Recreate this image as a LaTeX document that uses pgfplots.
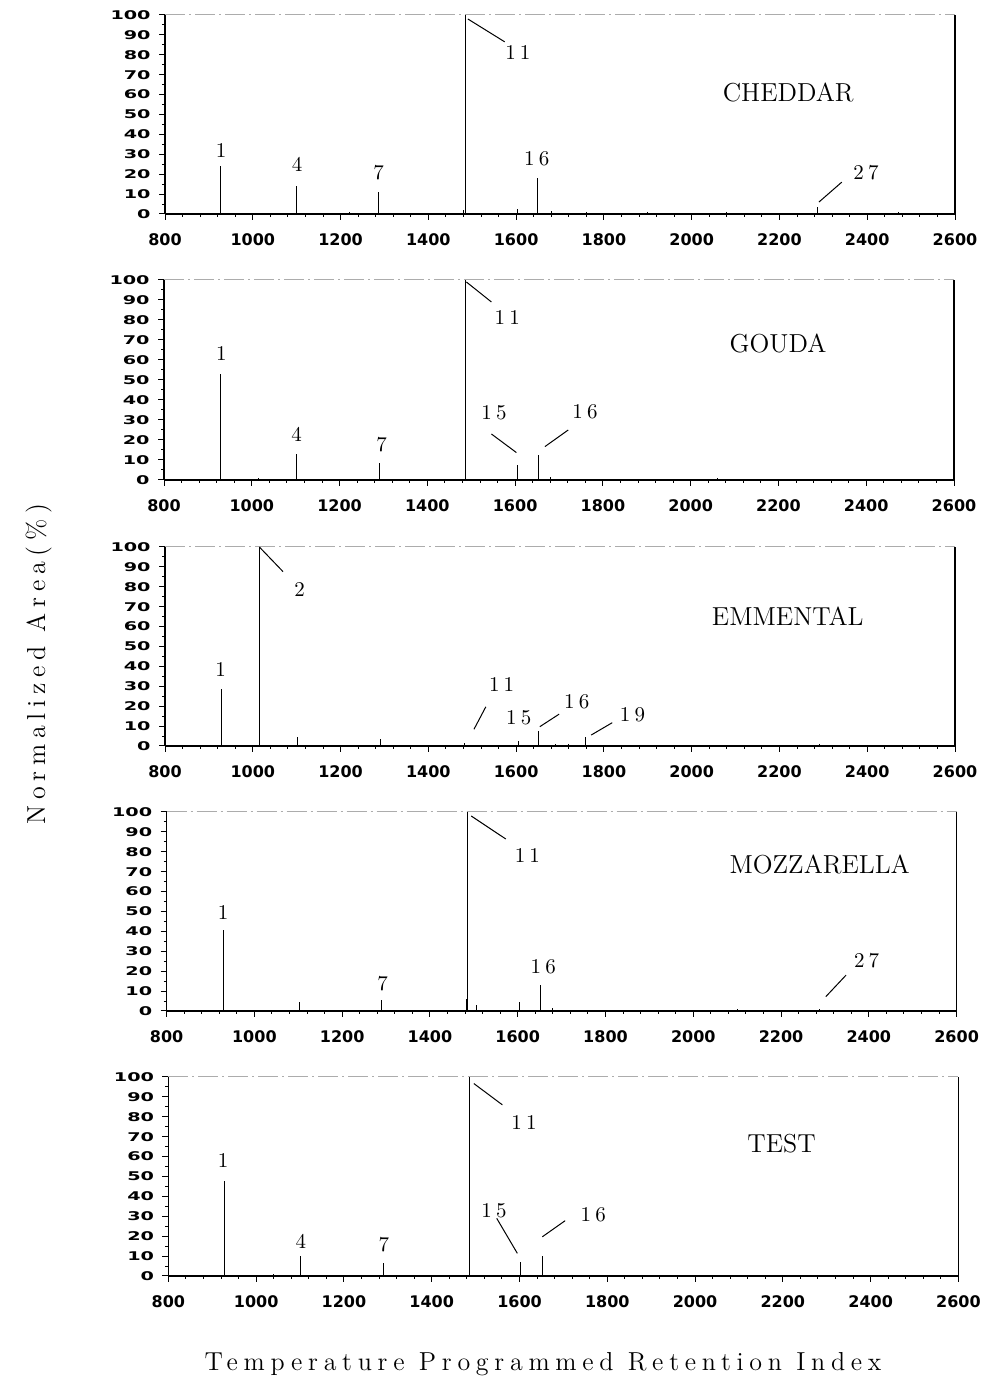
\documentclass[border=0pt]{standalone}
\usepackage{fontspec}
\usepackage{graphicx}
\usepackage{pgfplots}
\pgfplotsset{compat=1.18}
\newfontfamily\tickfont{DejaVu Sans}
\newfontfamily\spacedA{lmroman12-regular.otf}[LetterSpace=22]
\newfontfamily\spacedB{lmroman10-regular.otf}[LetterSpace=20]
\newcommand\lbl[1]{{\spacedB\fontsize{10.5}{12}\selectfont #1}}
\newcommand\ttl[1]{{\fontsize{13}{15}\selectfont #1}}
\pgfplotsset{
  panel/.style={
    scale only axis,
    width=395pt, height=99.5pt,
    xmin=800, xmax=2600, ymin=0, ymax=100,
    axis lines*=left,
    axis line style={-, line width=0.6pt},
    xtick={800,1000,...,2600},
    ytick={0,10,...,100},
    minor x tick num=4,
    minor y tick num=1,
    tick align=outside,
    major tick length=3pt,
    minor tick length=1.5pt,
    tick style={black, line width=0.5pt},
    scaled x ticks=false,
    /pgf/number format/1000 sep={},
    /pgf/number format/assume math mode=true,
    xticklabel style={font=\tickfont\bfseries\fontsize{8}{9}\selectfont, inner sep=0pt, yshift=-6.5pt},
    yticklabel={\scalebox{1.6}[1]{\pgfmathprintnumber{\tick}}},
    yticklabel style={font=\tickfont\bfseries\fontsize{6}{7}\selectfont, inner sep=0pt, xshift=-4pt},
    clip=false,
    anchor=south west,
  },
  stick/.style={ycomb, no markers, black, line width=0.5pt},
  noise/.style={ycomb, no markers, black, line width=0.4pt},
}
\newcommand\frameTR{%
  \draw[gray!65, line width=0.5pt, dash pattern=on 10pt off 2pt on 1pt off 2pt] (rel axis cs:0,1) -- (rel axis cs:1,1);
  \draw[black, line width=0.6pt] (rel axis cs:1,0) -- (rel axis cs:1,1);}
\begin{document}
\begin{tikzpicture}
\path[use as bounding box] (0,0) rectangle (493pt,690pt);

% ---------------- CHEDDAR
\begin{axis}[panel, at={(82.5pt,583pt)}]
\addplot[stick] coordinates {(927,24) (1100,14.3) (1287,11.2) (1485,100) (1648,18) (2287,3.5)};
\addplot[noise] coordinates {(1010,0.6) (1060,0.5) (1220,0.8) (1480,2) (1603,2.5) (1680,1.5) (1760,1.2) (1900,0.8) (2080,1.2) (2470,1)};
\frameTR
\node at (axis cs:928,32) {\lbl{1}};
\node at (axis cs:1101,25) {\lbl{4}};
\node at (axis cs:1287,21) {\lbl{7}};
\node at (axis cs:1604,81) {\lbl{11}};
\draw[line width=0.5pt] (axis cs:1490,98) -- (axis cs:1574,86.5);
\node at (axis cs:1647,28) {\lbl{16}};
\node at (axis cs:2397,21) {\lbl{27}};
\draw[line width=0.5pt] (axis cs:2290,6) -- (axis cs:2342,16);
\node at (axis cs:2220,61) {\ttl{CHEDDAR}};
\end{axis}

% ---------------- GOUDA
\begin{axis}[panel, height=100pt, at={(82pt,450pt)}]
\addplot[stick] coordinates {(929,53) (1102,13) (1290,8.7) (1487,100) (1606,7.5) (1653,12.3)};
\addplot[noise] coordinates {(1016,1) (1230,0.6) (1680,1.5) (1760,0.6) (1900,0.6) (2060,0.8) (2300,0.5)};
\frameTR
\node at (axis cs:931,63) {\lbl{1}};
\node at (axis cs:1102,23) {\lbl{4}};
\node at (axis cs:1296,17.5) {\lbl{7}};
\node at (axis cs:1582,81) {\lbl{11}};
\draw[line width=0.5pt] (axis cs:1489,99) -- (axis cs:1546,89);
\node at (axis cs:1552,33.7) {\lbl{15}};
\draw[line width=0.5pt] (axis cs:1546,23) -- (axis cs:1603,13.7);
\node at (axis cs:1759,34) {\lbl{16}};
\draw[line width=0.5pt] (axis cs:1721,25) -- (axis cs:1668,16.7);
\node at (axis cs:2199,68) {\ttl{GOUDA}};
\end{axis}

% ---------------- EMMENTAL
\begin{axis}[panel, at={(82.5pt,317pt)}]
\addplot[stick] coordinates {(927.6,28.5) (1015,100) (1101,4.5) (1290,3.3) (1483,1.5) (1605,2.7) (1652,7.5) (1758,4.5)};
\addplot[noise] coordinates {(960,0.6) (1690,1) (1720,0.8) (1860,0.5) (2290,0.8) (2430,0.6)};
\frameTR
\node at (axis cs:927,38.5) {\lbl{1}};
\node at (axis cs:1107,78.4) {\lbl{2}};
\draw[line width=0.5pt] (axis cs:1015,100) -- (axis cs:1069,87.6);
\node at (axis cs:1567,30.7) {\lbl{11}};
\draw[line width=0.5pt] (axis cs:1531,19.7) -- (axis cs:1504,8.4);
\node at (axis cs:1606,14) {\lbl{15}};
\node at (axis cs:1738,22.3) {\lbl{16}};
\draw[line width=0.5pt] (axis cs:1698,16) -- (axis cs:1654,9.7);
\node at (axis cs:1865,15.6) {\lbl{19}};
\draw[line width=0.5pt] (axis cs:1819,11.7) -- (axis cs:1771,5.5);
\node at (axis cs:2219,65.3) {\ttl{EMMENTAL}};
\end{axis}

% ---------------- MOZZARELLA
\begin{axis}[panel, at={(83.3pt,184.5pt)}]
\addplot[stick] coordinates {(929,40.8) (1102,4.4) (1290,5.5) (1486,100) (1505,3) (1605,4.7) (1652,13) (1680,1.5) (2288,1)};
\addplot[noise] coordinates {(1483,6) (1060,0.5) (1200,0.5) (1900,0.6) (2100,0.8) (2400,0.5)};
\frameTR
\node at (axis cs:929,49.5) {\lbl{1}};
\node at (axis cs:1292,13.6) {\lbl{7}};
\node at (axis cs:1622,78) {\lbl{11}};
\draw[line width=0.5pt] (axis cs:1494,98) -- (axis cs:1573,86.4);
\node at (axis cs:1658,22.3) {\lbl{16}};
\node at (axis cs:2395,25.2) {\lbl{27}};
\draw[line width=0.5pt] (axis cs:2348,18) -- (axis cs:2302,7.2);
\node at (axis cs:2288,73.5) {\ttl{MOZZARELLA}};
\end{axis}

% ---------------- TEST
\begin{axis}[panel, at={(84.2pt,52pt)}]
\addplot[stick] coordinates {(927.6,47.8) (1101,10.2) (1289,6.4) (1487,100) (1603,6.9) (1652,10)};
\addplot[noise] coordinates {(1039,1) (1080,0.6) (1700,0.6) (1960,0.5) (2150,0.6) (2500,0.5)};
\frameTR
\node at (axis cs:924.6,58.2) {\lbl{1}};
\node at (axis cs:1102,17.2) {\lbl{4}};
\node at (axis cs:1291,15.9) {\lbl{7}};
\node at (axis cs:1610,77) {\lbl{11}};
\draw[line width=0.5pt] (axis cs:1496,96.7) -- (axis cs:1561,86);
\node at (axis cs:1542,33) {\lbl{15}};
\draw[line width=0.5pt] (axis cs:1548,29) -- (axis cs:1595,11.4);
\node at (axis cs:1768,30.6) {\lbl{16}};
\draw[line width=0.5pt] (axis cs:1704,27.8) -- (axis cs:1652,19.7);
\node at (axis cs:2197,66.6) {\ttl{TEST}};
\end{axis}

\node[rotate=90, anchor=base] at (22.5pt,358pt) {\spacedA\fontsize{13}{15}\selectfont Normalized Area(\%)};
\node[anchor=base] at (271.5pt,5pt) {\spacedA\fontsize{13}{15}\selectfont Temperature Programmed Retention Index};
\end{tikzpicture}
\end{document}
